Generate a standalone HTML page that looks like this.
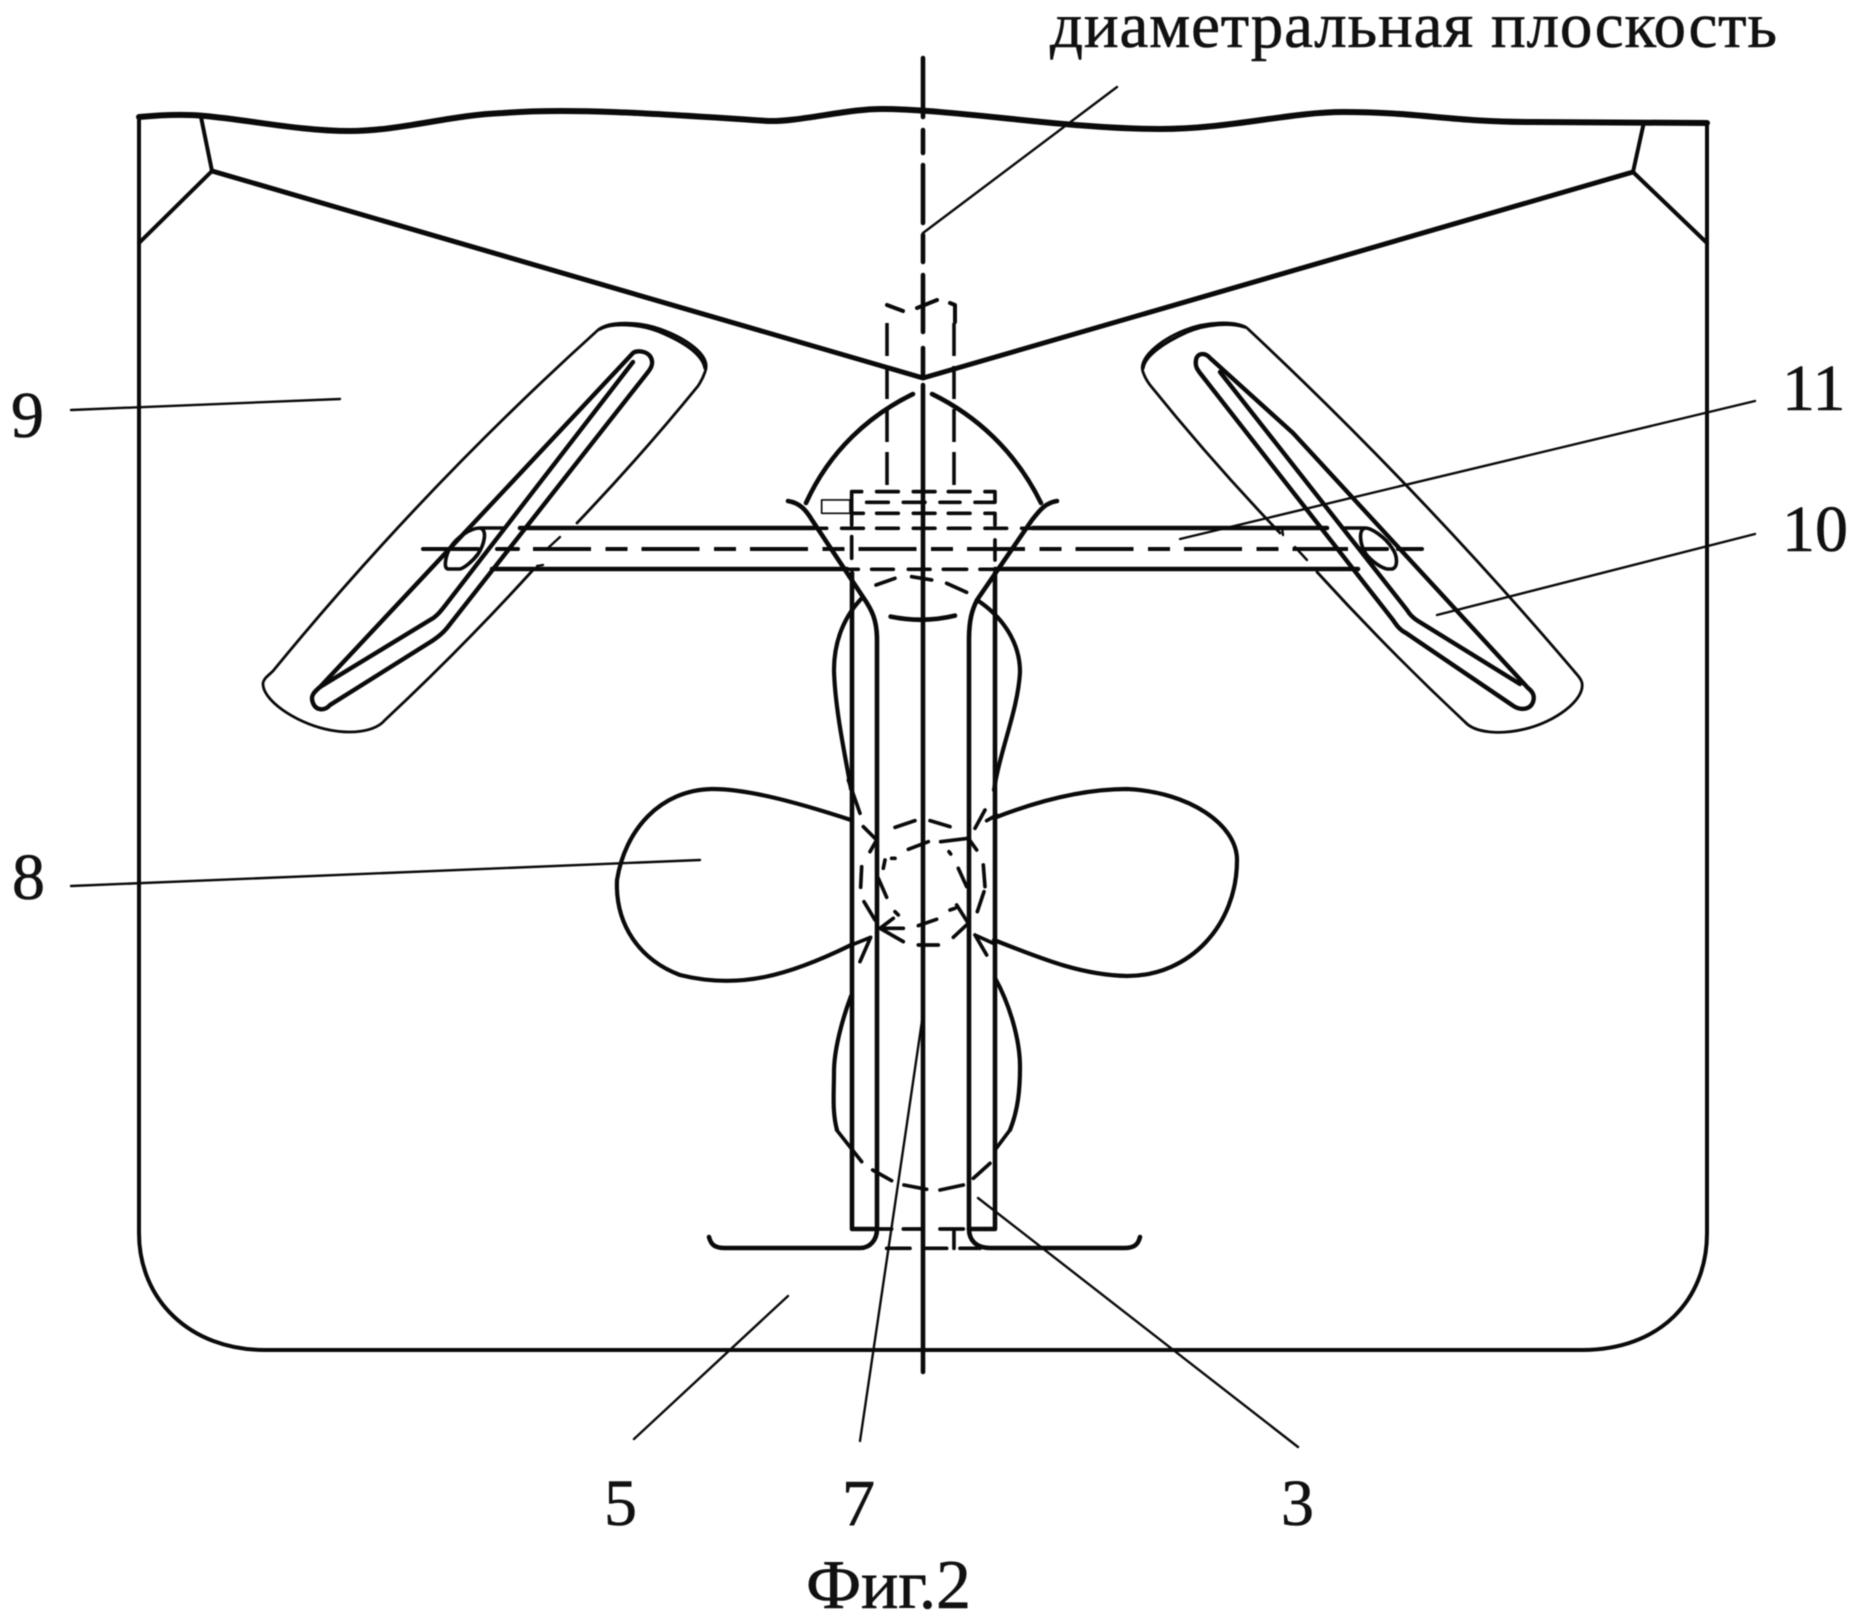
<!DOCTYPE html>
<html lang="ru"><head><meta charset="utf-8"><style>
html,body{margin:0;padding:0;background:#fff}
svg{display:block;filter:blur(.5px)}
text{font-family:"Liberation Serif",serif;fill:#111;stroke:#111;stroke-width:.6px;font-size:66px}
.a{fill:none;stroke:#0a0a0a;stroke-linecap:round;stroke-linejoin:round}
</style></head><body>
<svg width="1856" height="1617" viewBox="0 0 1856 1617" xmlns="http://www.w3.org/2000/svg">
<rect width="1856" height="1617" fill="#fff"/>
<text x="1050" y="47" textLength="727" style="font-size:65px">диаметральная плоскость</text>
<text x="11" y="437">9</text><text x="12" y="899">8</text>
<text x="1782" y="410">11</text><text x="1782" y="551">10</text>
<text x="604" y="1525">5</text><text x="842" y="1525">7</text><text x="1281" y="1525">3</text>
<text x="806" y="1608" textLength="165" style="font-size:70px">Фиг.2</text>

<g class="a" stroke-width="2.4">
<path d="M71 410L340 399M71 886L700 860M1755 401L1180 539M1755 534L1437 615M634 1439L788 1296M860 1441L906 1130L923 1014M1298 1447L978 1198M1117 87L923 233"/>
</g>

<g class="a" stroke-width="4.6">
<path stroke-width="6" d="M139 117C160 115 186 114 205 116C250 120 300 131 350 131C400 131 450 115 503 113C569 108 650 113 768 121C800 122 850 108 885 109C960 110 1068 129 1160 129C1230 129 1290 112 1343 112C1420 112 1450 122 1532 122L1707 123"/>
<path stroke-width="4" d="M139 117V1233C139 1300 190 1350 265 1350H1582C1660 1350 1707 1300 1707 1233V123"/>
<path stroke-width="4" d="M201 117L212 171L139 243M1644 122L1633 172L1707 243"/>
<path stroke-width="5" d="M212 171L923 378L1633 172"/>
<path d="M923 385V1372M923 58V117M923 130V153M923 165V223M923 235V262M923 275V332M923 348V375"/>
<path d="M913 394C870 415 830 450 806 503M932 394C975 415 1015 450 1041 503"/>
<path d="M788 501C800 503 806 510 812 520L863 597C872 610 877 620 877 640V1229H852V573"/>
<path d="M1057 501C1045 503 1040 510 1032 520L977 600C972 610 969 620 969 640V1229H995V573"/>
<path d="M709 1237C711 1245 715 1248 725 1248H860C870 1248 877 1240 877 1229M1140 1237C1138 1245 1134 1248 1124 1248H990C976 1248 969 1240 969 1229"/>
<path d="M813 528H520M1033 528H1327M847 569H492M995 569H1358"/>
<!-- propeller -->
<path stroke-width="4.2" d="M851 820C790 800 745 789 712 789C660 790 625 830 617 880C615 925 640 960 680 975C740 990 790 975 851 945"/>
<path stroke-width="4.2" d="M994 818C1040 800 1085 789 1127 789C1190 792 1237 825 1237 860C1237 925 1190 976 1127 976C1080 975 1040 958 994 940"/>
<path stroke-width="4.2" d="M863 597C845 615 834 640 834 670C835 710 846 760 851 789M977 600C1000 615 1020 640 1020 672C1018 710 1000 750 994 790"/>
<path stroke-width="4.2" d="M851 996C842 1020 834 1050 834 1072C834 1092 832 1112 837 1130M995 978C1010 1005 1020 1040 1020 1067C1020 1090 1018 1110 1010 1130"/>
</g>

<!-- left foil -->
<g class="a">
<path stroke-width="2.8" d="M598 330C610 320 640 322 660 329C685 338 712 355 705 372C703 378 700 383 698 386Q641 456 577 523M533 570Q462 648 385 720C375 732 350 735 325 729C295 722 262 700 263 683C264 678 268 676 273 671Q422 489 598 330"/>
<path stroke-width="3.4" d="M600 329C612 322 640 324 658 331C680 340 702 352 705 368"/>
<path stroke-width="4.4" d="M320 687L633 353C637 350 646 351 650 356C654 362 652 367 648 372L447 628C443 633 438 637 432 641L330 705C325 711 316 711 313 703C310 696 314 692 320 687"/>
<path stroke-width="4.4" d="M320 687L430 620C436 617 440 612 444 607L633 362"/>
<path stroke-width="3.6" d="M448 569C443 568 446 555 450 548C456 538 470 528 480 528C488 530 484 545 478 554C472 562 464 568 460 569H448M480 528H503"/>
<path stroke-width="2.4" d="M543 565L537 566M548 548L560 537"/>
</g>
<!-- right foil -->
<g class="a">
<path stroke-width="2.8" d="M1247 328C1235 320 1205 322 1185 330C1160 340 1138 358 1143 372C1145 378 1147 381 1150 385Q1212 462 1280 533M1317 572Q1388 650 1465 722C1475 733 1500 735 1525 729C1555 722 1585 700 1582 683C1581 678 1577 675 1574 671Q1420 490 1247 328"/>
<path stroke-width="3.4" d="M1245 327C1230 322 1205 324 1187 332C1165 342 1145 355 1143 368"/>
<path stroke-width="4.4" d="M1528 688L1293 433L1210 358C1205 352 1197 353 1196 360C1195 366 1197 369 1200 373L1393 620C1397 626 1400 630 1406 633L1512 705C1520 711 1530 710 1533 702C1535 696 1533 692 1528 688"/>
<path stroke-width="4.4" d="M1220 372L1407 610C1410 615 1413 618 1418 621L1520 684"/>
<path stroke-width="3.6" d="M1392 569C1398 568 1398 556 1392 548C1386 538 1372 528 1365 528C1358 530 1360 545 1366 554C1372 562 1382 568 1387 569H1392M1365 528H1345"/>
<path stroke-width="2.4" d="M1282 528L1283 535M1295 547L1307 560"/>
</g>

<!-- centre dashed -->
<g class="a" stroke-width="4" stroke-linecap="butt">
<path stroke-linecap="butt" stroke-dasharray="58 14.5 22 14" d="M533 549H1348"/>
<path d="M1360 549H1387M1398 549H1422M423 549H478M497 549H518"/>
<path stroke-width="3.6" d="M887 323V492M954 323V492" stroke-dasharray="33 10" stroke-linecap="butt"/>
<path d="M887 305L903 311M917 308L937 300M950 303L955 305V322"/>
</g>
<!-- dashed box, zoom coords -->
<g class="a" stroke-width="11" transform="translate(700 280) scale(.3333)">
<path d="M455 635H485M530 635H595M640 635H705M745 635H810M855 635H885V665M500 667H565M610 667H675M720 667H780M825 667H885M455 700H490M530 700H595M640 700H705M745 700H810M855 700H885V735M340 745H380M425 745H490M530 745H595M640 745H705M745 745H810M855 745H920M965 745H1000M440 868H475M515 868H580M625 868H690M730 868H800M840 868H880M455 635V735M455 770V835M885 780V840M528 915L585 895M635 890L695 900M740 910L800 937"/>
<path stroke-width="14" d="M572 1010Q670 1030 765 1007"/>
<path stroke-width="5" d="M365 660H450V700H365Z"/>
</g>
<!-- hub, zoom coords -->
<g class="a" stroke-width="11" transform="translate(780 780) scale(.3333)">
<path d="M345 142L405 122M450 122L510 140M610 255L615 320M612 335L592 395M245 260L242 322M252 365L285 420M415 495H475M415 437L470 418M385 208L445 185M482 185L565 175M250 140L290 180L270 215M295 295L320 352M315 240L310 265M335 235H345M535 265L560 320M530 375L565 430L520 472M510 390L525 385M345 395L355 405M300 445L370 445M300 445L370 485M300 445L340 415M585 465L620 525M585 465L640 490M240 545L272 472L215 495M615 90L585 145M565 175L590 210M507 215L512 222M620 122L650 105M205 0L240 100"/>
</g>
<!-- bottom dashes, zoom coords -->
<g class="a" stroke-width="11" transform="translate(680 1130) scale(.3333)">
<path d="M590 297H635M670 297H725M780 297H850M822 297V355M620 355H690M735 355H800M840 355H900M470 0L545 95M578 120L635 152M672 165L740 178M780 180L850 165M880 145L930 100M945 60L990 0"/>
</g>
</svg>
</body></html>
